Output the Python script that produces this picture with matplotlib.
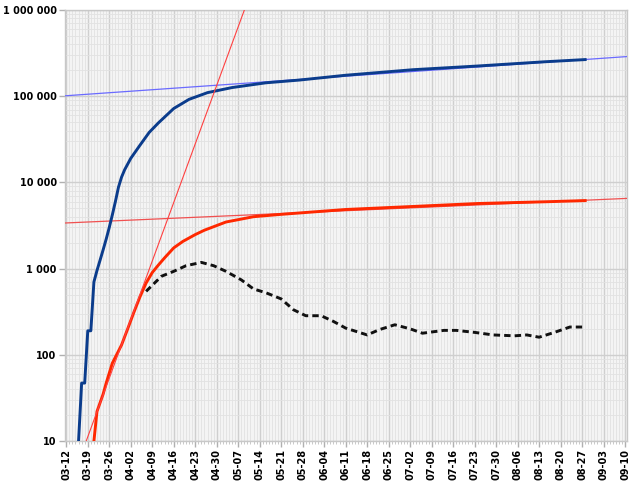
import numpy as np
import pandas as pd
import matplotlib
matplotlib.use("Agg")
import matplotlib.pyplot as plt
import matplotlib.dates as mdates
from matplotlib.ticker import FixedLocator, FuncFormatter, LogLocator, NullFormatter

# cumulative cases (thick blue)
cases_dates = ["2020-03-16", "2020-03-17", "2020-03-18", "2020-03-19", "2020-03-20",
               "2020-03-21", "2020-03-22", "2020-03-23", "2020-03-24", "2020-03-25",
               "2020-03-26", "2020-03-27", "2020-03-28", "2020-03-29", "2020-03-30",
               "2020-03-31", "2020-04-02", "2020-04-05", "2020-04-08", "2020-04-11",
               "2020-04-16", "2020-04-21", "2020-04-27", "2020-05-05", "2020-05-16",
               "2020-05-27", "2020-06-11", "2020-07-03", "2020-07-24", "2020-08-15",
               "2020-08-28"]
cases = [10, 47, 47, 190, 190, 700, 950, 1250, 1650, 2200, 3000, 4200, 6000, 8800,
         11500, 14000, 19000, 27000, 38000, 49000, 72000, 92000, 110000, 126000, 143000,
         154000, 175000, 203000, 224000, 251000, 266000]

# cumulative deaths (thick red)
deaths_dates = ["2020-03-21", "2020-03-22", "2020-03-24", "2020-03-25", "2020-03-27",
                "2020-03-30", "2020-04-01", "2020-04-03", "2020-04-05", "2020-04-07",
                "2020-04-09", "2020-04-11", "2020-04-13", "2020-04-16", "2020-04-19",
                "2020-04-23", "2020-04-26", "2020-05-03", "2020-05-12", "2020-05-21",
                "2020-06-11", "2020-07-03", "2020-07-24", "2020-08-15", "2020-08-28"]
deaths = [10, 22, 35, 47, 80, 130, 200, 310, 470, 680, 900, 1100, 1330, 1740, 2070,
          2480, 2790, 3470, 4000, 4260, 4850, 5260, 5690, 5960, 6150]

# black dashed series
daily_dates = ["2020-04-07", "2020-04-12", "2020-04-16", "2020-04-20", "2020-04-25",
               "2020-04-29", "2020-05-03", "2020-05-08", "2020-05-12", "2020-05-16",
               "2020-05-21", "2020-05-25", "2020-05-29", "2020-06-03", "2020-06-07",
               "2020-06-11", "2020-06-18", "2020-06-22", "2020-06-27", "2020-07-02",
               "2020-07-06", "2020-07-13", "2020-07-17", "2020-07-23", "2020-07-29",
               "2020-08-05", "2020-08-09", "2020-08-13", "2020-08-18", "2020-08-23",
               "2020-08-27"]
daily = [545, 815, 930, 1080, 1180, 1080, 930, 740, 580, 525, 445, 333, 284, 284, 244,
         204, 170, 196, 223, 200, 178, 192, 192, 182, 170, 166, 170, 160, 182, 210, 210]

# exponential trend lines (end points)
trend_dates = ["2020-03-11 12:00", "2020-09-10 12:00"]
cases_trend = [101000, 288000]
deaths_trend = [3380, 6520]
early_dates = ["2020-03-18 12:00", "2020-05-09 00:00"]
early_trend = [10, 1000000]

tick_dates = pd.date_range("2020-03-12", "2020-09-10", freq="7D")

fig = plt.figure(figsize=(6.29, 4.83), dpi=100)
ax = fig.add_axes([65 / 629, 42 / 483, 562 / 629, 431 / 483])
ax.set_facecolor("#f4f4f4")

ax.plot(pd.to_datetime(trend_dates), cases_trend, color="#6a6aff", lw=0.9, zorder=3)
ax.plot(pd.to_datetime(trend_dates), deaths_trend, color="#f05050", lw=0.9, zorder=3)
ax.plot(pd.to_datetime(cases_dates), cases, color="#0b3c8c", lw=2.1, zorder=4,
        solid_joinstyle="round")
ax.plot(pd.to_datetime(deaths_dates), deaths, color="#ff2800", lw=2.1, zorder=4,
        solid_joinstyle="round")
ax.plot(pd.to_datetime(daily_dates), daily, color="#111111", lw=2.1,
        ls=(0, (2.2, 1.4)), zorder=4)
ax.plot(pd.to_datetime(early_dates), early_trend, color="#ff4040", lw=0.8, zorder=5)

ax.set_yscale("log")
ax.set_ylim(10, 1000000)
ax.set_xlim(pd.Timestamp("2020-03-11 14:00"), pd.Timestamp("2020-09-10 15:00"))

ax.yaxis.set_major_locator(LogLocator(base=10))
ax.yaxis.set_minor_locator(LogLocator(base=10, subs=np.arange(2, 10)))
ax.yaxis.set_minor_formatter(NullFormatter())
ax.yaxis.set_major_formatter(FuncFormatter(lambda v, p: f"{int(round(v)):,}".replace(",", " ")))

ax.xaxis.set_major_locator(FixedLocator(mdates.date2num(tick_dates)))
ax.xaxis.set_minor_locator(mdates.DayLocator())
ax.xaxis.set_major_formatter(mdates.DateFormatter("%m-%d"))

ax.grid(which="major", color="#cfcfcf", lw=1.0)
ax.grid(which="minor", color="#e2e2e2", lw=0.6)
ax.set_axisbelow(True)

for s in ax.spines.values():
    s.set_color("#c8c8c8")
    s.set_linewidth(1.0)

ax.tick_params(axis="both", which="major", length=4, color="#b0b0b0", width=1,
               labelsize=7, pad=2)
ax.tick_params(axis="x", which="minor", length=2, color="#c0c0c0", width=0.6)
ax.tick_params(axis="y", which="minor", length=0)
for lab in ax.get_xticklabels():
    lab.set_rotation(90)
    lab.set_fontweight("bold")
for lab in ax.get_yticklabels():
    lab.set_fontweight("bold")

fig.savefig("out.png", dpi=100)
